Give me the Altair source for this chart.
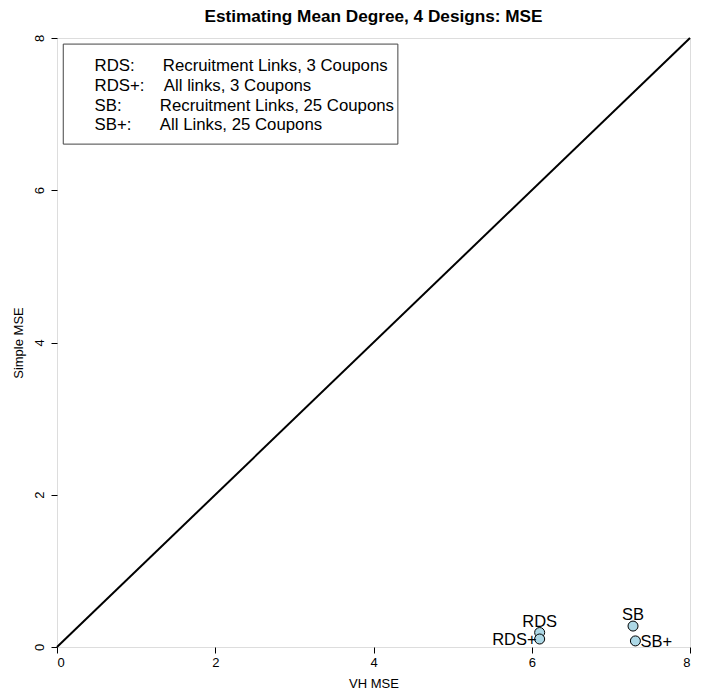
import altair as alt
import pandas as pd

# ---- data ----
designs = ["RDS", "RDS+", "SB", "SB+"]
vh_mse = [6.10, 6.10, 7.28, 7.31]
simple_mse = [0.19, 0.105, 0.275, 0.08]
label_side = ["top", "left", "top", "right"]

legend_keys = ["RDS:", "RDS+:", "SB:", "SB+:"]
legend_desc = [
    "Recruitment Links, 3 Coupons",
    "All links, 3 Coupons",
    "Recruitment Links, 25 Coupons",
    "All Links, 25 Coupons",
]

diag_vals = [0, 8]
tick_vals = [0, 2, 4, 6, 8]

# ---- layout (data units) for the hand-drawn legend ----
leg_key_x = 0.475
leg_desc_x = [1.3375, 1.35, 1.30, 1.30]
leg_row_y = [7.632, 7.369, 7.107, 6.857]
leg_box = dict(x=0.079, x2=4.308, y=7.92, y2=6.606)

FONT = "Liberation Sans"
W, H = 633, 609

pts = pd.DataFrame({"vh": vh_mse, "simple": simple_mse, "design": designs, "side": label_side})
diag = pd.DataFrame({"vh": diag_vals, "simple": diag_vals})
leg = pd.DataFrame({"key": legend_keys, "desc": legend_desc, "kx": [leg_key_x] * 4,
                    "dx": leg_desc_x, "y": leg_row_y})
box = pd.DataFrame([leg_box])

xscale = alt.Scale(domain=[0, 8], nice=False, zero=False)
yscale = alt.Scale(domain=[0, 8], nice=False, zero=False)

xaxis = alt.Axis(values=tick_vals, format="d", grid=False, domain=False, tickSize=6,
                 tickColor="black", labelColor="black", labelFont=FONT, labelFontSize=13,
                 labelPadding=3, title="VH MSE", titleFont=FONT, titleFontSize=13,
                 titleFontWeight="normal", titleColor="black", titleY=36,
                 titleBaseline="middle")
yaxis = alt.Axis(values=tick_vals, format="d", grid=False, domain=False, tickSize=6,
                 tickColor="black", labelColor="black", labelFont=FONT, labelFontSize=13,
                 labelAngle=270, labelPadding=5, title="Simple MSE", titleFont=FONT,
                 titleFontSize=13, titleFontWeight="normal", titleColor="black",
                 titleX=-39, titleY=H / 2, titleAngle=270, titleAlign="center",
                 titleBaseline="middle")

line = alt.Chart(diag).mark_line(color="black", strokeWidth=2).encode(
    x=alt.X("vh:Q", scale=xscale, axis=xaxis),
    y=alt.Y("simple:Q", scale=yscale, axis=yaxis),
)

points = alt.Chart(pts).mark_point(filled=True, fill="#ADD8E6", stroke="black",
                                   strokeWidth=1, size=100, opacity=1, shape="circle").encode(
    x="vh:Q", y="simple:Q")

lab_top = alt.Chart(pts).transform_filter(alt.datum.side == "top").mark_text(
    font=FONT, fontSize=16.5, align="center", baseline="alphabetic", dy=-6, color="black"
).encode(x="vh:Q", y="simple:Q", text="design:N")
lab_left = alt.Chart(pts).transform_filter(alt.datum.side == "left").mark_text(
    font=FONT, fontSize=16.5, align="right", baseline="middle", dx=-3, dy=1, color="black"
).encode(x="vh:Q", y="simple:Q", text="design:N")
lab_right = alt.Chart(pts).transform_filter(alt.datum.side == "right").mark_text(
    font=FONT, fontSize=16.5, align="left", baseline="middle", dx=5, dy=1, color="black"
).encode(x="vh:Q", y="simple:Q", text="design:N")

legbox = alt.Chart(box).mark_rect(fill="white", stroke="#444", strokeWidth=1).encode(
    x="x:Q", x2="x2:Q", y="y:Q", y2="y2:Q")
legkey = alt.Chart(leg).mark_text(font=FONT, fontSize=16.8, align="left", baseline="middle",
                                  color="black").encode(x="kx:Q", y="y:Q", text="key:N")
legdesc = alt.Chart(leg).mark_text(font=FONT, fontSize=16.8, align="left", baseline="middle",
                                   color="black").encode(x="dx:Q", y="y:Q", text="desc:N")

chart = alt.layer(line, legbox, legkey, legdesc, points, lab_top, lab_left, lab_right).properties(
    width=W, height=H,
    title=alt.TitleParams("Estimating Mean Degree, 4 Designs: MSE",
                          font=FONT, fontSize=17.2,
                          fontWeight="bold", color="black", anchor="middle", frame="group",
                          baseline="bottom", offset=-9),
    autosize=alt.AutoSizeParams(type="none"),
    padding={"left": 49, "top": 30, "right": 4, "bottom": 45},
).configure_view(stroke="black", strokeWidth=1).configure(background="white")

chart.save("out.html", embed_options={"renderer": "svg", "actions": False})
